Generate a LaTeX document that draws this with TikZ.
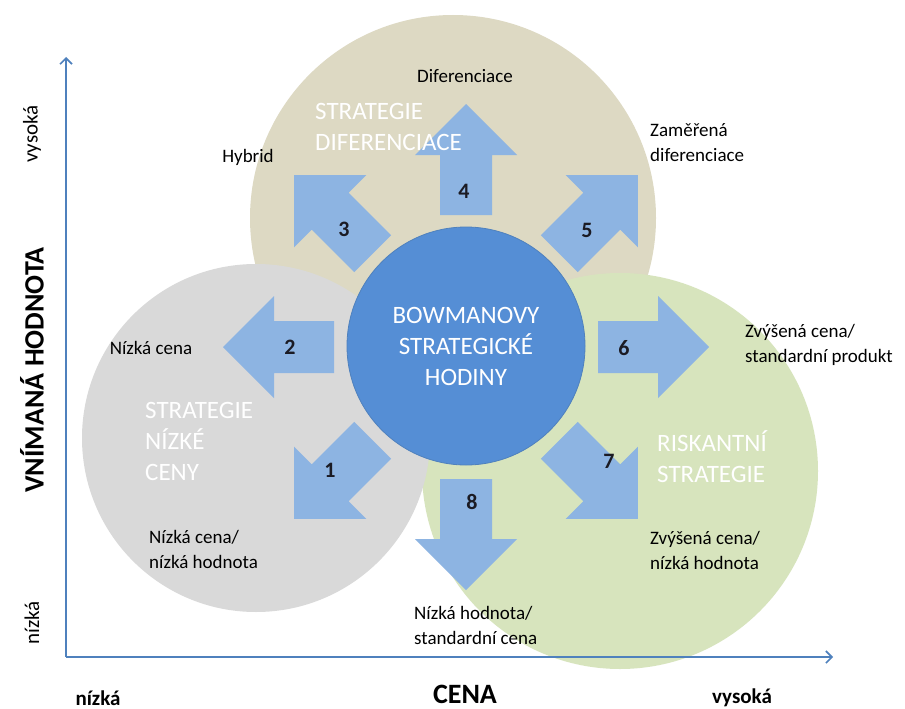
\documentclass[tikz,border=0pt]{standalone}
\usepackage{fontspec}
\setmainfont{Carlito}
\usetikzlibrary{arrows.meta}
\definecolor{diffzone}{HTML}{DDD9C3}
\definecolor{lowzone}{HTML}{D9D9D9}
\definecolor{riskzone}{HTML}{D7E4BD}
\definecolor{hubblue}{HTML}{558ED5}
\definecolor{hubedge}{HTML}{4F81BD}
\definecolor{blockblue}{HTML}{8DB4E2}
\definecolor{axisblue}{HTML}{4F81BD}
\definecolor{numdark}{HTML}{1B1B24}
\begin{document}
\begin{tikzpicture}[x=1pt,y=-1pt,
  zone/.style={circle, inner sep=0pt, minimum size=#1},
  blockarrow/.style={fill=blockblue},
  option/.style={font=\fontsize{19}{25}\selectfont, text=black, inner sep=0pt},
  optionleft/.style={option, align=left, anchor=west},
  strat/.style={font=\fontsize{25}{31}\selectfont, text=white, inner sep=0pt, align=left, anchor=west},
  num/.style={font=\fontsize{22}{22}\selectfont\bfseries, text=numdark, inner sep=0pt},
  axisline/.style={draw=axisblue, line width=1.6pt, -{Straight Barb[length=6pt,width=12pt,line width=1.6pt]}},
  axistitle/.style={font=\fontsize{28}{28}\selectfont\bfseries, text=black, inner sep=0pt},
  axisend/.style={font=\fontsize{21}{21}\selectfont, text=black, inner sep=0pt},
  axisendbold/.style={font=\fontsize{21}{21}\selectfont\bfseries, text=black, inner sep=0pt}]

\useasboundingbox (0,0) rectangle (905,709);
\fill[white] (0,0) rectangle (905,709);

% the three strategy zones
\node[zone=406pt, fill=diffzone] (diff) at (453,218) {};
\node[zone=396pt, fill=riskzone] (risk) at (620,471) {};
\node[zone=348pt, fill=lowzone] (low) at (256,438) {};

% eight block arrows radiating from the hub
\foreach \ang in {0,45,90,135,180,225,270,315}{
  \fill[blockarrow, shift={(466,347)}, rotate=\ang]
    (132,-26) -- (192,-26) -- (192,-51) -- (243,0) -- (192,51) -- (192,26) -- (132,26) -- cycle;
}

% central hub
\node[zone=238pt, fill=hubblue, draw=hubedge, line width=0.8pt,
      font=\fontsize{25}{31}\selectfont, text=white, align=center] (hub) at (466,346)
  {BOWMANOVY\\STRATEGICKÉ\\HODINY};

% arrow numbers
\node[num] (n1) at (330,470) {1};
\node[num] (n2) at (290,347) {2};
\node[num] (n3) at (344,229) {3};
\node[num] (n4) at (464,191) {4};
\node[num] (n5) at (587,230) {5};
\node[num] (n6) at (624,348) {6};
\node[num] (n7) at (609,461) {7};
\node[num] (n8) at (472,502) {8};

% zone titles
\node[strat] (tdiff) at (315,127) {STRATEGIE\\DIFERENCIACE};
\node[strat] (tlow) at (145,441) {STRATEGIE\\NÍZKÉ\\CENY};
\node[strat] (trisk) at (657,457) {RISKANTNÍ\\STRATEGIE};

% strategy options
\node[option] (o4) at (465,76) {Diferenciace};
\node[option] (o3) at (248,157) {Hybrid};
\node[optionleft] (o5) at (650,143) {Zaměřená\\diferenciace};
\node[option] (o2) at (151,348) {Nízká cena};
\node[optionleft] (o6) at (745,345) {Zvýšená cena/\\standardní produkt};
\node[optionleft] (o1) at (149,549) {Nízká cena/\\nízká hodnota};
\node[optionleft] (o7) at (650,550) {Zvýšená cena/\\nízká hodnota};
\node[optionleft] (o8) at (414,625) {Nízká hodnota/\\standardní cena};

% axes
\coordinate (origin) at (66,657);
\coordinate (ytop) at (66,57);
\coordinate (xend) at (833,657);
\draw[axisline] (origin) -- (ytop);
\draw[axisline] (origin) -- (xend);

\node[axistitle, rotate=90] (ylab) at (32,370) {VNÍMANÁ HODNOTA};
\node[axisend, rotate=90] (yhigh) at (32,134) {vysoká};
\node[axisend, rotate=90] (ylow) at (32,623) {nízká};
\node[axistitle] (xlab) at (465,694) {CENA};
\node[axisendbold] (xlow) at (98,698) {nízká};
\node[axisendbold] (xhigh) at (742,698) {vysoká};

\end{tikzpicture}
\end{document}
